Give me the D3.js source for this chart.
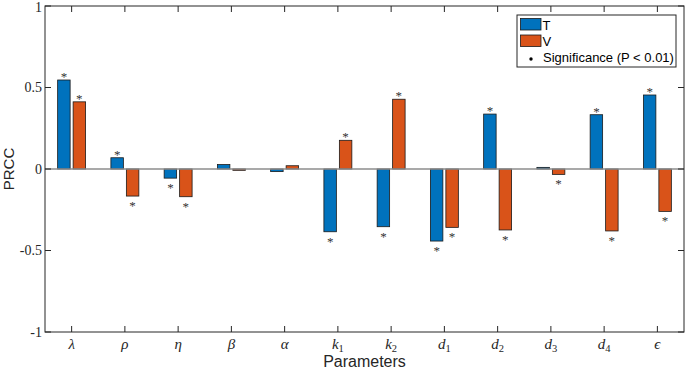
<!DOCTYPE html>
<html>
<head>
<meta charset="utf-8">
<script src="https://cdn.jsdelivr.net/npm/d3@7"></script>
<style>
    body { margin: 0; background: #fff; }
    #chart-area { width: 686px; height: 370px; }
    .sans { font-family: "Liberation Sans", Arial, sans-serif; }
    .serif { font-family: "Liberation Serif", "Times New Roman", serif; }
</style>
</head>
<body>
<div id="chart-area"></div>
<script>

// Parameters (base symbol + subscript)
const paramSymbols = ["λ", "ρ", "η", "β", "α", "k", "k", "d", "d", "d", "d", "ϵ"];
const paramSubs = ["", "", "", "", "", "1", "2", "1", "2", "3", "4", ""];

const seriesNames = ["T", "V"];
const seriesColors = ["#0072BD", "#D95319"];

// PRCC values
const valuesT = [0.546, 0.069, -0.056, 0.027, -0.016, -0.385, -0.354, -0.442, 0.337, 0.010, 0.333, 0.454];
const valuesV = [0.412, -0.166, -0.170, -0.008, 0.020, 0.176, 0.428, -0.358, -0.374, -0.033, -0.380, -0.260];

// significance (P < 0.01)
const sigT = [1, 1, 1, 0, 0, 1, 1, 1, 1, 0, 1, 1];
const sigV = [1, 1, 1, 0, 0, 1, 1, 1, 1, 1, 1, 1];

const yTicks = [-1, -0.5, 0, 0.5, 1];
const yTickLabels = ["-1", "-0.5", "0", "0.5", "1"];

class PrccVis {
    constructor(parentElement) {
        this.parentElement = parentElement;
        this.initVis();
    }

    initVis() {
        let vis = this;

        vis.margin = {top: 6, right: 2, bottom: 38, left: 45};
        vis.width = 686 - vis.margin.left - vis.margin.right;
        vis.height = 370 - vis.margin.top - vis.margin.bottom;

        vis.svg = d3.select("#" + vis.parentElement).append("svg")
            .attr("width", 686)
            .attr("height", 370)
            .append("g")
            .attr("transform", "translate(" + vis.margin.left + "," + vis.margin.top + ")");

        vis.x = d3.scaleBand()
            .domain(d3.range(paramSymbols.length))
            .range([0, vis.width]);

        let half = vis.x.bandwidth() * 0.2625;
        vis.xInner = d3.scaleBand()
            .domain(seriesNames)
            .range([-half, half])
            .paddingInner(0.194);

        vis.y = d3.scaleLinear()
            .domain([-1, 1])
            .range([vis.height, 0]);

        vis.displayData = [];
        paramSymbols.forEach((p, i) => {
            vis.displayData.push({i: i, series: "T", value: valuesT[i], sig: sigT[i], color: seriesColors[0]});
            vis.displayData.push({i: i, series: "V", value: valuesV[i], sig: sigV[i], color: seriesColors[1]});
        });

        vis.updateVis();
    }

    updateVis() {
        let vis = this;
        const axisColor = "#262626";

        // bars
        vis.svg.append("g").attr("class", "bars")
            .selectAll("rect")
            .data(vis.displayData)
            .enter()
            .append("rect")
            .attr("x", d => vis.x(d.i) + vis.x.bandwidth() / 2 + vis.xInner(d.series))
            .attr("width", vis.xInner.bandwidth())
            .attr("y", d => vis.y(Math.max(0, d.value)))
            .attr("height", d => Math.abs(vis.y(d.value) - vis.y(0)))
            .attr("fill", d => d.color)
            .attr("stroke", "#1a1a1a")
            .attr("stroke-width", 0.8);

        // baseline
        vis.svg.append("line")
            .attr("x1", 0).attr("x2", vis.width)
            .attr("y1", vis.y(0)).attr("y2", vis.y(0))
            .attr("stroke", "#8c8c8c")
            .attr("stroke-width", 1.5);

        // significance stars
        vis.svg.append("g").attr("class", "stars")
            .selectAll("text")
            .data(vis.displayData.filter(d => d.sig))
            .enter()
            .append("text")
            .attr("class", "serif")
            .attr("x", d => vis.x(d.i) + vis.x.bandwidth() / 2 + vis.xInner(d.series) + vis.xInner.bandwidth() / 2)
            .attr("y", d => d.value >= 0 ? vis.y(d.value) + 1 : vis.y(d.value) + 14)
            .attr("text-anchor", "middle")
            .attr("font-size", 13)
            .attr("fill", "#333")
            .text("*");

        // box
        vis.svg.append("rect")
            .attr("x", 0).attr("y", 0)
            .attr("width", vis.width).attr("height", vis.height)
            .attr("fill", "none")
            .attr("stroke", axisColor)
            .attr("stroke-width", 1);

        // x ticks (inward, top and bottom)
        let xt = vis.svg.append("g").attr("class", "x-ticks");
        paramSymbols.forEach((p, i) => {
            let cx = vis.x(i) + vis.x.bandwidth() / 2;
            xt.append("line").attr("x1", cx).attr("x2", cx)
                .attr("y1", vis.height).attr("y2", vis.height - 6)
                .attr("stroke", axisColor);
            xt.append("line").attr("x1", cx).attr("x2", cx)
                .attr("y1", 0).attr("y2", 6)
                .attr("stroke", axisColor);
            let t = xt.append("text")
                .attr("class", "serif")
                .attr("x", cx)
                .attr("y", vis.height + 17)
                .attr("text-anchor", "middle")
                .attr("font-size", 15)
                .attr("font-style", "italic")
                .attr("fill", "#262626");
            t.append("tspan").text(p);
            if (paramSubs[i]) {
                t.append("tspan")
                    .attr("font-size", 10.5)
                    .attr("font-style", "normal")
                    .attr("dy", 3)
                    .text(paramSubs[i]);
            }
        });

        // y ticks (inward, left and right)
        let yt = vis.svg.append("g").attr("class", "y-ticks");
        yTicks.forEach((v, i) => {
            let yy = vis.y(v);
            yt.append("line").attr("x1", 0).attr("x2", 6)
                .attr("y1", yy).attr("y2", yy).attr("stroke", axisColor);
            yt.append("line").attr("x1", vis.width).attr("x2", vis.width - 6)
                .attr("y1", yy).attr("y2", yy).attr("stroke", axisColor);
            yt.append("text")
                .attr("class", "serif")
                .attr("x", -3)
                .attr("y", Math.max(yy + 4.5, 5.5))
                .attr("text-anchor", "end")
                .attr("font-size", 14)
                .attr("fill", "#262626")
                .text(yTickLabels[i]);
        });

        // axis titles
        vis.svg.append("text")
            .attr("class", "sans")
            .attr("x", vis.width / 2)
            .attr("y", vis.height + 35)
            .attr("text-anchor", "middle")
            .attr("font-size", 16)
            .attr("fill", "#262626")
            .text("Parameters");

        vis.svg.append("text")
            .attr("class", "sans")
            .attr("transform", "translate(" + (-31) + "," + vis.y(0) + ") rotate(-90)")
            .attr("text-anchor", "middle")
            .attr("font-size", 15)
            .attr("fill", "#262626")
            .text("PRCC");

        // legend
        let lg = vis.svg.append("g")
            .attr("transform", "translate(" + (517 - vis.margin.left) + "," + (15 - vis.margin.top) + ")");
        lg.append("rect")
            .attr("width", 159).attr("height", 52)
            .attr("fill", "#fff")
            .attr("stroke", axisColor)
            .attr("stroke-width", 1);
        seriesNames.forEach((s, i) => {
            lg.append("rect")
                .attr("x", 3.5).attr("y", 3.5 + i * 16.5)
                .attr("width", 20.5).attr("height", 11.5)
                .attr("fill", seriesColors[i])
                .attr("stroke", "#1a1a1a")
                .attr("stroke-width", 0.8);
            lg.append("text")
                .attr("class", "sans")
                .attr("x", 25.5).attr("y", 14.5 + i * 16.5)
                .attr("font-size", 13)
                .attr("fill", "#000")
                .text(s);
        });
        lg.append("circle")
            .attr("cx", 14).attr("cy", 44)
            .attr("r", 1.7)
            .attr("fill", "#000");
        lg.append("text")
            .attr("class", "sans")
            .attr("x", 26).attr("y", 47)
            .attr("font-size", 13)
            .attr("fill", "#000")
            .text("Significance (P < 0.01)");
    }
}

new PrccVis("chart-area");
</script>
</body>
</html>
